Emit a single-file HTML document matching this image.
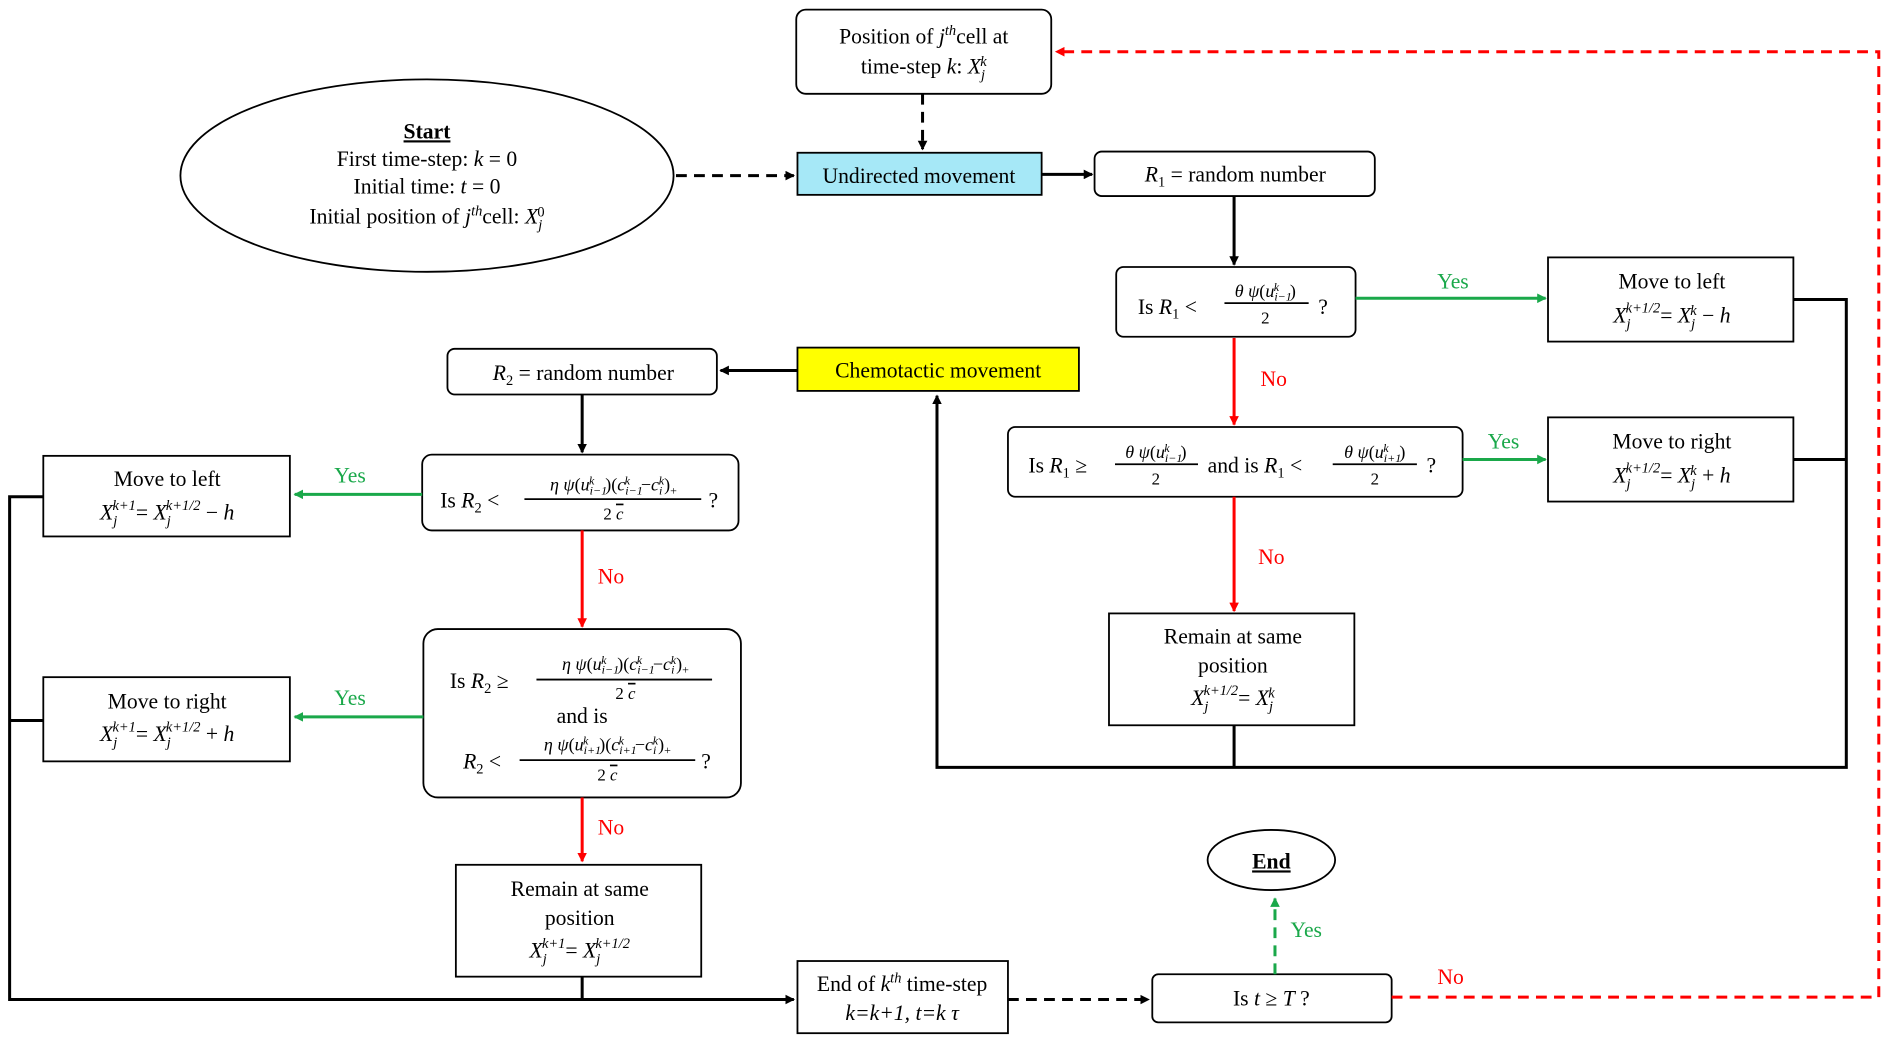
<!DOCTYPE html>
<html><head><meta charset="utf-8"><style>html,body{margin:0;padding:0;background:#fff}svg{display:block}</style></head><body>
<svg width="1886" height="1038" viewBox="0 0 1568 863" preserveAspectRatio="none" xmlns="http://www.w3.org/2000/svg" font-family="Liberation Serif, serif" font-size="18">
<defs>
<marker id="ak" markerWidth="8" markerHeight="8" refX="7" refY="4" orient="auto" markerUnits="userSpaceOnUse"><path d="M0,0 L8,4 L0,8 z" fill="#000"/></marker>
<marker id="ar" markerWidth="8" markerHeight="8" refX="7" refY="4" orient="auto" markerUnits="userSpaceOnUse"><path d="M0,0 L8,4 L0,8 z" fill="#f00"/></marker>
<marker id="ag" markerWidth="8" markerHeight="8" refX="7" refY="4" orient="auto" markerUnits="userSpaceOnUse"><path d="M0,0 L8,4 L0,8 z" fill="#1aa84a"/></marker>
</defs>
<g fill="none" stroke="#000" stroke-width="1.5">
<rect x="662" y="8" width="212" height="70" rx="8"/>
<ellipse cx="355" cy="146" rx="205" ry="80"/>
<rect x="663" y="127" width="203" height="35" fill="#a6e8f7"/>
<rect x="910" y="126" width="233" height="37" rx="6"/>
<rect x="928" y="222" width="199" height="58" rx="6"/>
<rect x="1287" y="214" width="204" height="70"/>
<rect x="838" y="355" width="378" height="58" rx="6"/>
<rect x="1287" y="347" width="204" height="70"/>
<rect x="922" y="510" width="204" height="93"/>
<rect x="663" y="289" width="234" height="36" fill="#ffff00"/>
<rect x="372" y="290" width="224" height="38" rx="6"/>
<rect x="351" y="378" width="263" height="63" rx="8"/>
<rect x="36" y="379" width="205" height="67"/>
<rect x="352" y="523" width="264" height="140" rx="12"/>
<rect x="36" y="563" width="205" height="70"/>
<rect x="379" y="719" width="204" height="93"/>
<rect x="663" y="799" width="175" height="60"/>
<rect x="958" y="810" width="199" height="40" rx="5"/>
<ellipse cx="1057" cy="715" rx="53" ry="25"/>
</g>
<g fill="none" stroke="#000" stroke-width="2.5">
<path d="M562,146 H660" stroke-dasharray="9,6" marker-end="url(#ak)"/>
<path d="M767,78 V124" stroke-dasharray="9,6" marker-end="url(#ak)"/>
<path d="M866,145 H908" marker-end="url(#ak)"/>
<path d="M1026,163 V220" marker-end="url(#ak)"/>
<path d="M1491,249 H1535 V638 H779 V329" marker-end="url(#ak)"/>
<path d="M1491,382 H1535"/>
<path d="M1026,603 V638"/>
<path d="M663,308 H599" marker-end="url(#ak)"/>
<path d="M484,328 V376" marker-end="url(#ak)"/>
<path d="M36,413 H8 V831 H660" marker-end="url(#ak)"/>
<path d="M36,599 H8"/>
<path d="M484,812 V831"/>
<path d="M838,831 H955" stroke-dasharray="9,6" marker-end="url(#ak)"/>
</g>
<g fill="none" stroke="#f00" stroke-width="2.5">
<path d="M1026,281 V353" marker-end="url(#ar)"/>
<path d="M1026,413 V508" marker-end="url(#ar)"/>
<path d="M484,441 V521" marker-end="url(#ar)"/>
<path d="M484,663 V716" marker-end="url(#ar)"/>
<path d="M1157,829 H1562 V43 H878" stroke-dasharray="9,6" marker-end="url(#ar)"/>
</g>
<g fill="none" stroke="#1aa84a" stroke-width="2.5">
<path d="M1127,248 H1285" marker-end="url(#ag)"/>
<path d="M1216,382 H1285" marker-end="url(#ag)"/>
<path d="M351,411 H245" marker-end="url(#ag)"/>
<path d="M352,596 H245" marker-end="url(#ag)"/>
<path d="M1060,810 V747" stroke-dasharray="9,6" marker-end="url(#ag)"/>
</g>
<g fill="#1aa84a" text-anchor="middle">
<text x="1208" y="240">Yes</text><text x="1250" y="373">Yes</text>
<text x="291" y="401">Yes</text><text x="291" y="586">Yes</text><text x="1086" y="779">Yes</text>
</g>
<g fill="#f00" text-anchor="middle">
<text x="1059" y="321">No</text><text x="1057" y="469">No</text>
<text x="508" y="485">No</text><text x="508" y="694">No</text><text x="1206" y="818">No</text>
</g>
<g fill="#000" text-anchor="middle">
<text x="768" y="36">Position of <tspan font-style="italic">j</tspan><tspan font-size="12" dy="-7" font-style="italic">th</tspan><tspan dy="7">cell at</tspan></text>
<text x="768" y="61">time-step <tspan font-style="italic">k</tspan>: <tspan font-style="italic">X</tspan><tspan font-size="12" dy="5" font-style="italic">j</tspan><tspan font-size="12" dy="-11" dx="-4" font-style="italic">k</tspan></text>
<text x="355" y="115" font-weight="bold" text-decoration="underline">Start</text>
<text x="355" y="138">First time-step: <tspan font-style="italic">k</tspan>  =  0</text>
<text x="355" y="161">Initial time: <tspan font-style="italic">t</tspan>  =  0</text>
<text x="355" y="186">Initial position of <tspan font-style="italic">j</tspan><tspan font-size="12" dy="-7" font-style="italic">th</tspan><tspan dy="7">cell: </tspan><tspan font-style="italic">X</tspan><tspan font-size="12" dy="5" font-style="italic">j</tspan><tspan font-size="12" dy="-11" dx="-4">0</tspan></text>
<text x="764" y="152">Undirected movement</text>
<text x="1027" y="151"><tspan font-style="italic">R</tspan><tspan font-size="12" dy="4">1</tspan><tspan dy="-4"> = random number</tspan></text>
<text x="780" y="314">Chemotactic movement</text>
<text x="485" y="316"><tspan font-style="italic">R</tspan><tspan font-size="12" dy="4">2</tspan><tspan dy="-4"> = random number</tspan></text>
<text x="1390" y="240">Move to left</text>
<text x="1390" y="268"><tspan font-style="italic">X</tspan><tspan font-size="12" dy="5" font-style="italic">j</tspan><tspan font-size="12" dy="-13" dx="-4" font-style="italic">k+1/2</tspan><tspan dy="8">= </tspan><tspan font-style="italic">X</tspan><tspan font-size="12" dy="5" font-style="italic">j</tspan><tspan font-size="12" dy="-11" dx="-4" font-style="italic">k</tspan><tspan dy="6"> − </tspan><tspan font-style="italic">h</tspan></text>
<text x="1390" y="373">Move to right</text>
<text x="1390" y="401"><tspan font-style="italic">X</tspan><tspan font-size="12" dy="5" font-style="italic">j</tspan><tspan font-size="12" dy="-13" dx="-4" font-style="italic">k+1/2</tspan><tspan dy="8">= </tspan><tspan font-style="italic">X</tspan><tspan font-size="12" dy="5" font-style="italic">j</tspan><tspan font-size="12" dy="-11" dx="-4" font-style="italic">k</tspan><tspan dy="6"> + </tspan><tspan font-style="italic">h</tspan></text>
<text x="1025" y="535">Remain at same</text>
<text x="1025" y="559">position</text>
<text x="1025" y="586"><tspan font-style="italic">X</tspan><tspan font-size="12" dy="5" font-style="italic">j</tspan><tspan font-size="12" dy="-13" dx="-4" font-style="italic">k+1/2</tspan><tspan dy="8">= </tspan><tspan font-style="italic">X</tspan><tspan font-size="12" dy="5" font-style="italic">j</tspan><tspan font-size="12" dy="-11" dx="-4" font-style="italic">k</tspan></text>
<text x="139" y="404">Move to left</text>
<text x="139" y="432"><tspan font-style="italic">X</tspan><tspan font-size="12" dy="5" font-style="italic">j</tspan><tspan font-size="12" dy="-13" dx="-4" font-style="italic">k+1</tspan><tspan dy="8">= </tspan><tspan font-style="italic">X</tspan><tspan font-size="12" dy="5" font-style="italic">j</tspan><tspan font-size="12" dy="-13" dx="-4" font-style="italic">k+1/2</tspan><tspan dy="8"> − </tspan><tspan font-style="italic">h</tspan></text>
<text x="139" y="589">Move to right</text>
<text x="139" y="616"><tspan font-style="italic">X</tspan><tspan font-size="12" dy="5" font-style="italic">j</tspan><tspan font-size="12" dy="-13" dx="-4" font-style="italic">k+1</tspan><tspan dy="8">= </tspan><tspan font-style="italic">X</tspan><tspan font-size="12" dy="5" font-style="italic">j</tspan><tspan font-size="12" dy="-13" dx="-4" font-style="italic">k+1/2</tspan><tspan dy="8"> + </tspan><tspan font-style="italic">h</tspan></text>
<text x="482" y="745">Remain at same</text>
<text x="482" y="769">position</text>
<text x="482" y="796"><tspan font-style="italic">X</tspan><tspan font-size="12" dy="5" font-style="italic">j</tspan><tspan font-size="12" dy="-13" dx="-4" font-style="italic">k+1</tspan><tspan dy="8">= </tspan><tspan font-style="italic">X</tspan><tspan font-size="12" dy="5" font-style="italic">j</tspan><tspan font-size="12" dy="-13" dx="-4" font-style="italic">k+1/2</tspan></text>
<text x="750" y="824">End of <tspan font-style="italic">k</tspan><tspan font-size="12" dy="-7" font-style="italic">th</tspan><tspan dy="7"> time-step</tspan></text>
<text x="750" y="848" font-style="italic">k=k+1, t=k τ</text>
<text x="1057" y="836">Is <tspan font-style="italic">t</tspan> ≥ <tspan font-style="italic">T</tspan> ?</text>
<text x="1057" y="722" font-weight="bold" text-decoration="underline">End</text>
</g>
<g fill="#000" font-size="18">
<text x="946" y="261">Is  <tspan font-style="italic">R</tspan><tspan font-size="12" dy="4">1</tspan><tspan dy="-4"> &lt;</tspan></text>
<text x="1052" y="247" font-size="15" text-anchor="middle"><tspan font-style="italic">θ ψ</tspan>(<tspan font-style="italic">u</tspan><tspan font-size="10" dy="3" font-style="italic">i−1</tspan><tspan font-size="10" dy="-8" dx="-15" font-style="italic">k</tspan><tspan dy="5" dx="9">)</tspan></text>
<line x1="1018" y1="252" x2="1088" y2="252" stroke="#000" stroke-width="1.5"/>
<text x="1052" y="269" font-size="14" text-anchor="middle">2</text>
<text x="1096" y="261">?</text>

<text x="855" y="393">Is  <tspan font-style="italic">R</tspan><tspan font-size="12" dy="4">1</tspan><tspan dy="-4"> ≥</tspan></text>
<text x="961" y="381" font-size="15" text-anchor="middle"><tspan font-style="italic">θ ψ</tspan>(<tspan font-style="italic">u</tspan><tspan font-size="10" dy="3" font-style="italic">i−1</tspan><tspan font-size="10" dy="-8" dx="-15" font-style="italic">k</tspan><tspan dy="5" dx="9">)</tspan></text>
<line x1="927" y1="386" x2="996" y2="386" stroke="#000" stroke-width="1.5"/>
<text x="961" y="403" font-size="14" text-anchor="middle">2</text>
<text x="1004" y="393">and is  <tspan font-style="italic">R</tspan><tspan font-size="12" dy="4">1</tspan><tspan dy="-4"> &lt;</tspan></text>
<text x="1143" y="381" font-size="15" text-anchor="middle"><tspan font-style="italic">θ ψ</tspan>(<tspan font-style="italic">u</tspan><tspan font-size="10" dy="3" font-style="italic">i+1</tspan><tspan font-size="10" dy="-8" dx="-15" font-style="italic">k</tspan><tspan dy="5" dx="9">)</tspan></text>
<line x1="1108" y1="386" x2="1178" y2="386" stroke="#000" stroke-width="1.5"/>
<text x="1143" y="403" font-size="14" text-anchor="middle">2</text>
<text x="1186" y="393">?</text>

<text x="366" y="422">Is  <tspan font-style="italic">R</tspan><tspan font-size="12" dy="4">2</tspan><tspan dy="-4"> &lt;</tspan></text>
<text x="510" y="408" font-size="15" text-anchor="middle"><tspan font-style="italic">η ψ</tspan>(<tspan font-style="italic">u</tspan><tspan font-size="10" dy="3" font-style="italic">i−1</tspan><tspan font-size="10" dy="-8" dx="-15" font-style="italic">k</tspan><tspan dy="5" dx="9">)(</tspan><tspan font-style="italic">c</tspan><tspan font-size="10" dy="3" font-style="italic">i−1</tspan><tspan font-size="10" dy="-8" dx="-15" font-style="italic">k</tspan><tspan dy="5" dx="9">−</tspan><tspan font-style="italic">c</tspan><tspan font-size="10" dy="3" font-style="italic">i</tspan><tspan font-size="10" dy="-8" dx="-3" font-style="italic">k</tspan><tspan dy="5">)</tspan><tspan font-size="10" dy="3">+</tspan></text>
<line x1="436" y1="415" x2="583" y2="415" stroke="#000" stroke-width="1.5"/>
<text x="510" y="432" font-size="14" text-anchor="middle">2 <tspan font-style="italic" text-decoration="overline">c</tspan></text>
<text x="589" y="422">?</text>

<text x="374" y="572">Is  <tspan font-style="italic">R</tspan><tspan font-size="12" dy="4">2</tspan><tspan dy="-4"> ≥</tspan></text>
<text x="520" y="557" font-size="15" text-anchor="middle"><tspan font-style="italic">η ψ</tspan>(<tspan font-style="italic">u</tspan><tspan font-size="10" dy="3" font-style="italic">i−1</tspan><tspan font-size="10" dy="-8" dx="-15" font-style="italic">k</tspan><tspan dy="5" dx="9">)(</tspan><tspan font-style="italic">c</tspan><tspan font-size="10" dy="3" font-style="italic">i−1</tspan><tspan font-size="10" dy="-8" dx="-15" font-style="italic">k</tspan><tspan dy="5" dx="9">−</tspan><tspan font-style="italic">c</tspan><tspan font-size="10" dy="3" font-style="italic">i</tspan><tspan font-size="10" dy="-8" dx="-3" font-style="italic">k</tspan><tspan dy="5">)</tspan><tspan font-size="10" dy="3">+</tspan></text>
<line x1="446" y1="565" x2="592" y2="565" stroke="#000" stroke-width="1.5"/>
<text x="520" y="581" font-size="14" text-anchor="middle">2 <tspan font-style="italic" text-decoration="overline">c</tspan></text>
<text x="484" y="601" text-anchor="middle">and is</text>
<text x="385" y="639"><tspan font-style="italic">R</tspan><tspan font-size="12" dy="4">2</tspan><tspan dy="-4"> &lt;</tspan></text>
<text x="505" y="624" font-size="15" text-anchor="middle"><tspan font-style="italic">η ψ</tspan>(<tspan font-style="italic">u</tspan><tspan font-size="10" dy="3" font-style="italic">i+1</tspan><tspan font-size="10" dy="-8" dx="-15" font-style="italic">k</tspan><tspan dy="5" dx="9">)(</tspan><tspan font-style="italic">c</tspan><tspan font-size="10" dy="3" font-style="italic">i+1</tspan><tspan font-size="10" dy="-8" dx="-15" font-style="italic">k</tspan><tspan dy="5" dx="9">−</tspan><tspan font-style="italic">c</tspan><tspan font-size="10" dy="3" font-style="italic">i</tspan><tspan font-size="10" dy="-8" dx="-3" font-style="italic">k</tspan><tspan dy="5">)</tspan><tspan font-size="10" dy="3">+</tspan></text>
<line x1="432" y1="632" x2="578" y2="632" stroke="#000" stroke-width="1.5"/>
<text x="505" y="649" font-size="14" text-anchor="middle">2 <tspan font-style="italic" text-decoration="overline">c</tspan></text>
<text x="583" y="639">?</text>
</g>
</svg>
</body></html>
